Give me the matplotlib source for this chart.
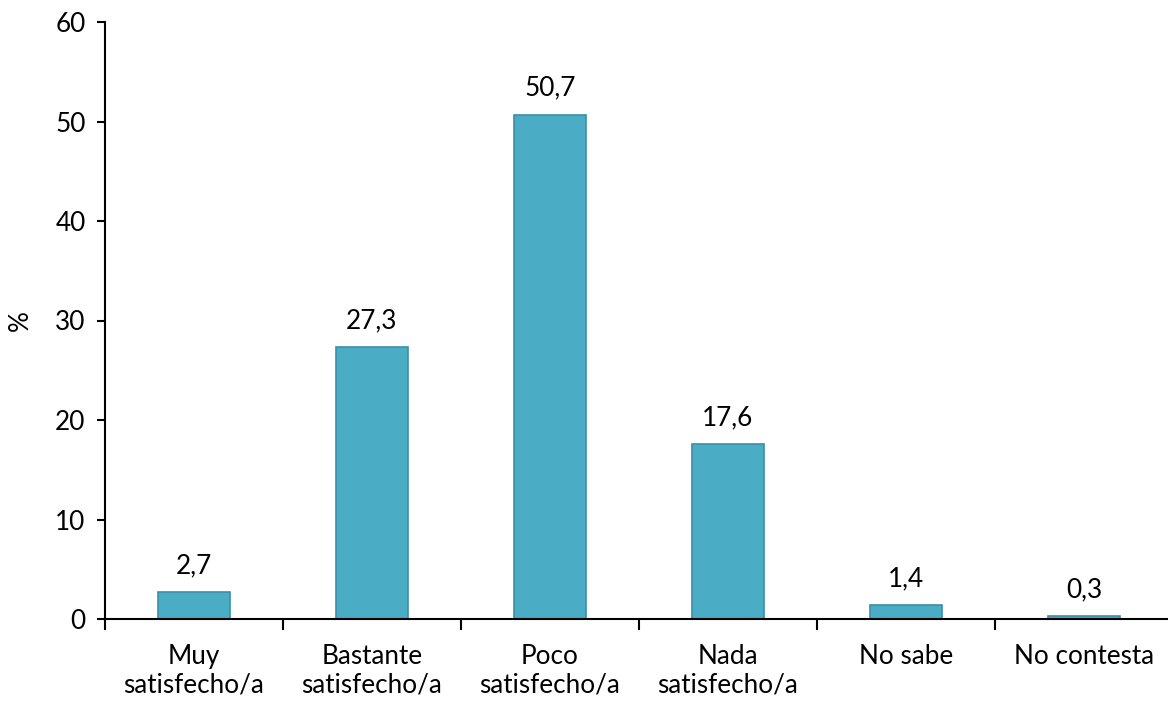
import matplotlib
matplotlib.use("Agg")
import matplotlib.pyplot as plt
import numpy as np

categories = ["Muy\nsatisfecho/a", "Bastante\nsatisfecho/a", "Poco\nsatisfecho/a",
              "Nada\nsatisfecho/a", "No sabe", "No contesta"]
values = [2.7, 27.3, 50.7, 17.6, 1.4, 0.3]
value_labels = ["2,7", "27,3", "50,7", "17,6", "1,4", "0,3"]
y_ticks = [0, 10, 20, 30, 40, 50, 60]

plt.rcParams['font.family'] = ['Lato', 'DejaVu Sans']
FS = 18.8

fig = plt.figure(figsize=(11.68, 7.04), dpi=100)
ax = fig.add_axes([105 / 1168, 85 / 704, (1173 - 105) / 1168, (619 - 22) / 704])

x = np.arange(len(categories))
bars = ax.bar(x, values, width=0.4, color="#4BACC6", edgecolor="#3B8FA6", linewidth=1.2, zorder=2)

for b, lab in zip(bars, value_labels):
    ax.annotate(lab, (b.get_x() + b.get_width() / 2, b.get_height()),
                xytext=(0, 10), textcoords="offset points",
                ha="center", va="bottom", fontsize=FS)

ax.set_xlim(-0.5, len(categories) - 0.5)
ax.set_ylim(0, 60)
ax.set_yticks(y_ticks)
ax.tick_params(axis="y", labelsize=FS, length=6, width=1.5, direction="out", pad=8)

# ticks between categories, labels centred
ax.set_xticks(np.arange(len(categories) + 1) - 0.5)
ax.set_xticklabels([])
ax.set_xticks(x, minor=True)
ax.set_xticklabels(categories, minor=True, fontsize=FS, linespacing=1.15)
ax.tick_params(axis="x", which="major", length=8, width=1.5, direction="out")
ax.tick_params(axis="x", which="minor", length=0, pad=18)

ax.set_ylabel("%", fontsize=FS, labelpad=16)

for s in ["top", "right"]:
    ax.spines[s].set_visible(False)
for s in ["left", "bottom"]:
    ax.spines[s].set_linewidth(1.5)

fig.savefig("out.png", dpi=100)
